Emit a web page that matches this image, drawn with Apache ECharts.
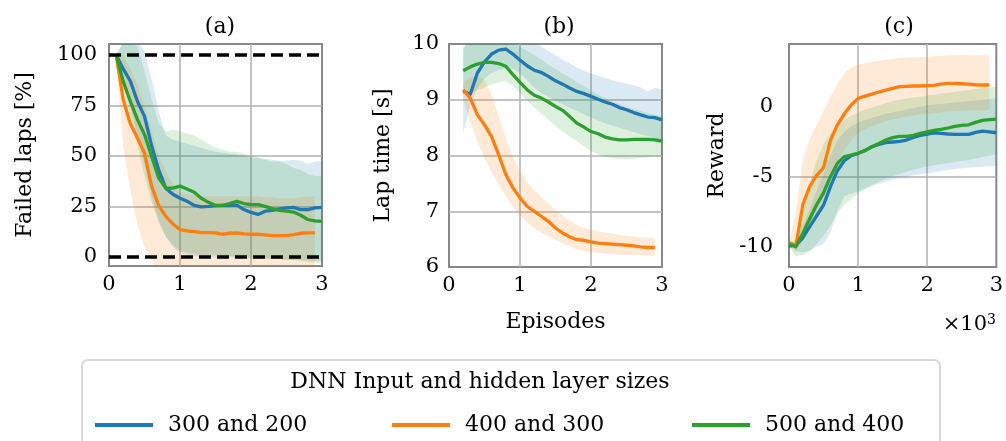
<!DOCTYPE html>
<html>
<head>
<meta charset="utf-8">
<script src="https://cdn.jsdelivr.net/npm/echarts@6/dist/echarts.min.js"></script>
<style>
  html, body { margin: 0; padding: 0; background: #fff; }
  #chart { width: 1006px; height: 441px; }
</style>
</head>
<body>
<div id="chart"></div>
<script>
// episodes (x10^3) sampled per panel
const episodesA = [0.1, 0.2, 0.3, 0.4, 0.5, 0.6, 0.7, 0.8, 0.9, 1.0, 1.1, 1.2, 1.3, 1.4, 1.5, 1.6, 1.7, 1.8, 1.9, 2.0, 2.1, 2.2, 2.3, 2.4, 2.5, 2.6, 2.7, 2.8, 2.9, 3.0];
const episodesB = [0.2, 0.3, 0.4, 0.5, 0.6, 0.7, 0.8, 0.9, 1.0, 1.1, 1.2, 1.3, 1.4, 1.5, 1.6, 1.7, 1.8, 1.9, 2.0, 2.1, 2.2, 2.3, 2.4, 2.5, 2.6, 2.7, 2.8, 2.9, 3.0];
const episodesC = [0.0, 0.1, 0.2, 0.3, 0.4, 0.5, 0.6, 0.7, 0.8, 0.9, 1.0, 1.1, 1.2, 1.3, 1.4, 1.5, 1.6, 1.7, 1.8, 1.9, 2.0, 2.1, 2.2, 2.3, 2.4, 2.5, 2.6, 2.7, 2.8, 2.9, 3.0];

const legendNames = ['300 and 200', '400 and 300', '500 and 400'];
const colors = ['#1f77b4', '#ff7f0e', '#2ca02c'];
const bandColors = ['rgba(31,119,180,0.16)', 'rgba(255,127,14,0.16)', 'rgba(44,160,44,0.16)'];

// (a) failed laps [%]
const failedBlue = [100, 93, 87, 77, 69.5, 55, 43, 34, 31, 29, 27.5, 25.5, 24.7, 25, 25.4, 25.5, 25.5, 25.6, 23.4, 22, 21, 22.6, 23, 23.7, 24.2, 24.5, 23.4, 23.4, 24.2, 24.5];
const failedOrange = [100, 77.8, 66, 58.8, 51.4, 35, 25.4, 20, 16.3, 13.5, 12.9, 12.5, 12, 12, 11.9, 11.2, 11.7, 11.9, 11.4, 11.2, 11.2, 10.9, 10.5, 10.5, 10.5, 11, 11.7, 11.9, 11.9];
const failedGreen = [100, 86.8, 77, 68, 60.5, 49.8, 39, 34, 34, 35, 33.6, 32, 29, 27, 25.5, 25.5, 26.4, 27.5, 26.4, 25.9, 25.9, 25, 23.9, 23, 22.6, 22.2, 20.6, 18.5, 17.8, 17.6];
const failedBlueLo = [100, 88, 75, 60, 45, 30, 18, 10, 5, 2, 1, 0.5, 0, 0, 0, 0, 0, -0.5, -0.5, -1, -1, -1, -1, -1, -1.5, -1.5, -1.5, -1.5, -2, -2];
const failedBlueHi = [100, 106, 106, 106, 102, 88, 72, 60, 58, 57, 56, 55, 54, 53, 52, 51.5, 51, 50.5, 50, 49, 49, 48.5, 48, 47.5, 47.5, 48, 47.5, 46, 47, 47.5];
const failedOrangeLo = [100, 55, 33, 16, 5, -2, -6, -6, -6, -6, -6, -6, -6, -6, -6, -6, -6, -6, -6, -6, -6, -6, -6, -6, -6, -6, -6, -6, -6];
const failedOrangeHi = [100, 100, 93, 85, 75, 62, 50, 42, 36, 32, 31, 30.5, 30, 30, 30, 30, 30, 30, 30, 30, 30, 29.5, 29.5, 29, 29, 29, 29.5, 30, 30];
const failedGreenLo = [100, 86, 70, 55, 40, 27, 17, 10, 6, 3, 2, 1.5, 1, 1, 1, 0.5, 0.5, 0, 0, 0, -0.5, -0.5, -1, -1, -1.5, -1.5, -2, -2.5, -3, -3];
const failedGreenHi = [100, 106, 106, 104, 92, 78, 66, 62, 63, 62, 61, 60, 58, 56, 54, 53, 52, 52, 51, 50, 49, 48, 47, 47, 46, 44, 43, 41, 40, 40];
const failedTicks = [0, 25, 50, 75, 100];

// (b) lap time [s]
const lapBlue = [9.15, 9.1, 9.48, 9.68, 9.82, 9.89, 9.91, 9.82, 9.71, 9.61, 9.53, 9.49, 9.42, 9.34, 9.28, 9.21, 9.15, 9.11, 9.06, 9.01, 8.96, 8.92, 8.86, 8.82, 8.77, 8.73, 8.69, 8.68, 8.64];
const lapOrange = [9.18, 9.03, 8.73, 8.55, 8.34, 8.01, 7.66, 7.42, 7.24, 7.09, 7.0, 6.91, 6.82, 6.7, 6.61, 6.54, 6.49, 6.48, 6.45, 6.43, 6.42, 6.41, 6.4, 6.39, 6.38, 6.36, 6.35, 6.35];
const lapGreen = [9.52, 9.59, 9.64, 9.67, 9.67, 9.65, 9.6, 9.45, 9.31, 9.18, 9.08, 9.03, 8.96, 8.88, 8.81, 8.7, 8.58, 8.51, 8.43, 8.39, 8.33, 8.3, 8.28, 8.28, 8.29, 8.29, 8.29, 8.28, 8.26];
const lapBlueLo = [8.4, 8.9, 9.2, 9.38, 9.48, 9.53, 9.56, 9.55, 9.48, 9.35, 9.22, 9.12, 9.05, 8.98, 8.92, 8.86, 8.8, 8.74, 8.68, 8.63, 8.58, 8.54, 8.5, 8.46, 8.42, 8.38, 8.35, 8.3, 8.27];
const lapBlueHi = [9.9, 10.1, 10.2, 10.3, 10.3, 10.3, 10.3, 10.3, 10.2, 10.1, 10.05, 9.95, 9.88, 9.8, 9.72, 9.65, 9.58, 9.52, 9.47, 9.43, 9.39, 9.35, 9.32, 9.29, 9.26, 9.22, 9.15, 9.22, 9.18];
const lapOrangeLo = [9.0, 8.6, 8.25, 7.95, 7.7, 7.48, 7.27, 7.08, 6.92, 6.8, 6.7, 6.62, 6.55, 6.48, 6.42, 6.37, 6.32, 6.29, 6.26, 6.25, 6.24, 6.23, 6.22, 6.22, 6.21, 6.21, 6.2, 6.2];
const lapOrangeHi = [9.3, 9.4, 9.42, 9.35, 9.1, 8.7, 8.3, 7.98, 7.72, 7.52, 7.38, 7.25, 7.14, 7.02, 6.92, 6.83, 6.75, 6.7, 6.67, 6.64, 6.62, 6.6, 6.58, 6.56, 6.55, 6.53, 6.52, 6.51];
const lapGreenLo = [9.1, 9.12, 9.17, 9.22, 9.28, 9.32, 9.33, 9.25, 9.12, 8.98, 8.86, 8.75, 8.64, 8.53, 8.43, 8.34, 8.26, 8.16, 8.08, 8.02, 7.98, 7.95, 7.94, 7.93, 7.94, 7.96, 7.97, 7.98, 7.99];
const lapGreenHi = [9.95, 10.05, 10.1, 10.1, 10.1, 10.1, 10.05, 10.0, 9.95, 9.88, 9.8, 9.72, 9.63, 9.55, 9.47, 9.4, 9.32, 9.24, 9.16, 9.1, 9.03, 8.97, 8.92, 8.87, 8.83, 8.8, 8.76, 8.73, 8.7];

// (c) reward
const rewardBlue = [-9.95, -9.88, -9.36, -8.57, -7.79, -7.02, -5.71, -4.57, -3.86, -3.5, -3.33, -3.14, -2.86, -2.69, -2.57, -2.52, -2.48, -2.38, -2.19, -2.05, -1.95, -1.86, -1.9, -1.95, -1.98, -1.98, -1.98, -1.83, -1.74, -1.79, -1.86];
const rewardOrange = [-9.7, -9.95, -7.0, -5.7, -4.9, -4.35, -2.4, -1.3, -0.52, 0.12, 0.6, 0.76, 0.9, 1.05, 1.19, 1.31, 1.43, 1.45, 1.48, 1.48, 1.5, 1.52, 1.62, 1.67, 1.67, 1.64, 1.62, 1.57, 1.55, 1.55];
const rewardGreen = [-9.8, -10.0, -9.05, -8.0, -7.0, -6.15, -5.0, -4.05, -3.57, -3.45, -3.33, -3.12, -2.86, -2.62, -2.38, -2.21, -2.12, -2.12, -2.05, -1.9, -1.79, -1.69, -1.62, -1.52, -1.4, -1.33, -1.29, -1.12, -0.98, -0.93, -0.88];
const rewardBlueLo = [-10.0, -10.3, -10.4, -10.3, -10.0, -9.8, -9.0, -7.5, -6.4, -6.2, -6.05, -5.85, -5.65, -5.5, -5.35, -5.2, -5.1, -5.0, -4.9, -4.82, -4.75, -4.68, -4.6, -4.52, -4.45, -4.4, -4.36, -4.32, -4.28, -4.25, -4.23];
const rewardBlueHi = [-9.9, -9.6, -8.5, -7.3, -6.0, -4.8, -3.5, -2.4, -1.8, -1.4, -1.15, -0.95, -0.8, -0.65, -0.5, -0.4, -0.3, -0.2, -0.1, 0.0, 0.1, 0.15, 0.2, 0.25, 0.3, 0.35, 0.4, 0.45, 0.5, 0.55, 0.6];
const rewardOrangeLo = [-9.7, -10.4, -9.6, -8.6, -7.6, -6.6, -5.2, -4.0, -3.1, -2.4, -1.9, -1.6, -1.4, -1.2, -1.05, -0.9, -0.8, -0.7, -0.62, -0.55, -0.5, -0.45, -0.4, -0.35, -0.3, -0.28, -0.26, -0.25, -0.25, -0.25];
const rewardOrangeHi = [-9.7, -7.5, -3.8, -2.3, -1.3, -0.3, 0.7, 1.6, 2.4, 2.8, 3.0, 3.1, 3.2, 3.28, 3.35, 3.42, 3.48, 3.5, 3.53, 3.55, 3.57, 3.6, 3.62, 3.65, 3.67, 3.7, 3.7, 3.68, 3.67, 3.65];
const rewardGreenLo = [-10.0, -10.7, -10.6, -10.3, -9.8, -9.2, -8.5, -7.6, -7.0, -6.6, -6.2, -5.9, -5.6, -5.35, -5.15, -4.95, -4.8, -4.65, -4.5, -4.38, -4.27, -4.18, -4.1, -4.02, -3.95, -3.88, -3.8, -3.7, -3.6, -3.5, -3.4];
const rewardGreenHi = [-9.8, -9.4, -7.5, -5.5, -3.8, -2.7, -1.9, -1.35, -0.95, -0.65, -0.4, -0.2, -0.05, 0.1, 0.25, 0.4, 0.5, 0.58, 0.65, 0.72, 0.8, 0.87, 0.94, 1.0, 1.07, 1.13, 1.2, 1.27, 1.33, 1.38, 1.42];
const rewardTicks = [-10, -5, 0];

const FONT = '"DejaVu Serif", serif';
const GRID_COLOR = '#b0b0b0';

const pairs = (xs, ys) => ys.map((v, i) => [xs[i], v]);

// shaded band between lo and hi, drawn as one polygon in axis coordinates
function bandSeries(g, xs, lo, hi, idx) {
  const n = lo.length;
  return {
    type: 'custom', name: 'band' + g + idx, xAxisIndex: g, yAxisIndex: g,
    clip: true, silent: true, z: 1,
    data: lo.map((v, i) => [xs[i], v, hi[i]]),
    encode: { x: 0, y: [1, 2] },
    renderItem: function (params, api) {
      if (params.dataIndex !== 0) return null;
      const pts = [];
      for (let i = 0; i < n; i++) pts.push(api.coord([xs[i], hi[i]]));
      for (let i = n - 1; i >= 0; i--) pts.push(api.coord([xs[i], lo[i]]));
      return { type: 'polygon', shape: { points: pts }, style: { fill: bandColors[idx] } };
    }
  };
}

function meanSeries(g, xs, ys, idx, extra) {
  return Object.assign({
    type: 'line', name: legendNames[idx], xAxisIndex: g, yAxisIndex: g,
    data: pairs(xs, ys), symbol: 'none', z: 3, color: colors[idx],
    lineStyle: { width: 3.3, color: colors[idx], join: 'round' }, emphasis: { disabled: true }
  }, extra || {});
}

const gridPos = [
  { left: 109, top: 44, width: 213, height: 222 },
  { left: 449, top: 44, width: 213, height: 223 },
  { left: 789, top: 44, width: 212, height: 223 }
];

const labelStyle = { color: '#000', fontFamily: FONT, fontSize: 21 };
const nameStyle = { color: '#000', fontFamily: FONT, fontSize: 22 };
const splitLine = { show: true, showMinLine: false, showMaxLine: false, lineStyle: { color: GRID_COLOR, width: 1.5 } };

const xAxes = [0, 1, 2].map(g => ({
  type: 'value', gridIndex: g, min: 0, max: 3, interval: 1,
  axisLine: { show: false }, axisTick: { show: false },
  axisLabel: Object.assign({ margin: 8 }, labelStyle),
  splitLine: splitLine,
  name: g === 1 ? 'Episodes' : '', nameLocation: 'middle', nameGap: 44, nameTextStyle: nameStyle
}));

const yAxes = [
  {
    type: 'value', gridIndex: 0, min: -4.5, max: 105.3,
    axisLabel: Object.assign({ margin: 12, customValues: failedTicks }, labelStyle),
    axisTick: { show: false, customValues: failedTicks },
    name: 'Failed laps [%]', nameGap: 73
  },
  {
    type: 'value', gridIndex: 1, min: 6, max: 10, interval: 1,
    axisLabel: Object.assign({ margin: 10 }, labelStyle),
    axisTick: { show: false },
    name: 'Lap time [s]', nameGap: 55
  },
  {
    type: 'value', gridIndex: 2, min: -11.45, max: 4.48,
    axisLabel: Object.assign({ margin: 16, customValues: rewardTicks }, labelStyle),
    axisTick: { show: false, customValues: rewardTicks },
    name: 'Reward', nameGap: 61
  }
].map(a => Object.assign({
  axisLine: { show: false }, splitLine: splitLine,
  nameLocation: 'middle', nameTextStyle: nameStyle
}, a));

const series = [
  bandSeries(0, episodesA, failedBlueLo, failedBlueHi, 0),
  bandSeries(0, episodesA, failedOrangeLo, failedOrangeHi, 1),
  bandSeries(0, episodesA, failedGreenLo, failedGreenHi, 2),
  bandSeries(1, episodesB, lapBlueLo, lapBlueHi, 0),
  bandSeries(1, episodesB, lapOrangeLo, lapOrangeHi, 1),
  bandSeries(1, episodesB, lapGreenLo, lapGreenHi, 2),
  bandSeries(2, episodesC, rewardBlueLo, rewardBlueHi, 0),
  bandSeries(2, episodesC, rewardOrangeLo, rewardOrangeHi, 1),
  bandSeries(2, episodesC, rewardGreenLo, rewardGreenHi, 2),
  meanSeries(0, episodesA, failedBlue, 0, {
    markLine: {
      silent: true, symbol: ['none', 'none'], label: { show: false },
      lineStyle: { color: '#000', type: [12, 6], width: 3.5 },
      data: [{ yAxis: 0 }, { yAxis: 100 }]
    }
  }),
  meanSeries(0, episodesA, failedOrange, 1),
  meanSeries(0, episodesA, failedGreen, 2),
  meanSeries(1, episodesB, lapBlue, 0),
  meanSeries(1, episodesB, lapOrange, 1),
  meanSeries(1, episodesB, lapGreen, 2),
  meanSeries(2, episodesC, rewardBlue, 0),
  meanSeries(2, episodesC, rewardOrange, 1),
  meanSeries(2, episodesC, rewardGreen, 2)
];

const panelTitles = ['(a)', '(b)', '(c)'];
const titleX = [215, 554, 894];

const chart = echarts.init(document.getElementById('chart'), null, { renderer: 'canvas' });
chart.setOption({
  animation: false,
  backgroundColor: '#fff',
  title: panelTitles.map((t, i) => ({
    text: t, left: titleX[i], top: 11, textAlign: 'center',
    textStyle: { fontFamily: FONT, fontSize: 22, fontWeight: 'normal', color: '#000' }
  })).concat([{
    text: '{m|×10}{s|3}', right: 5, top: 308,
    textStyle: {
      fontWeight: 'normal',
      rich: {
        m: { fontFamily: FONT, fontSize: 21, fontWeight: 'normal', color: '#000' },
        s: { fontFamily: FONT, fontSize: 14, fontWeight: 'normal', color: '#000', padding: [0, 0, 10, 0] }
      }
    }
  }]),
  grid: gridPos.map(p => Object.assign({
    show: true, borderColor: '#888', borderWidth: 2, backgroundColor: 'transparent', containLabel: false
  }, p)),
  xAxis: xAxes,
  yAxis: yAxes,
  legend: legendNames.map((n, i) => ({
    data: [n], left: [90, 387, 687][i], top: 409,
    icon: 'rect', itemWidth: 58, itemHeight: 4,
    selectedMode: false,
    textStyle: { fontFamily: FONT, fontSize: 22, color: '#000', padding: [0, 0, 0, 10] }
  })),
  graphic: [
    {
      type: 'rect', z: -1,
      shape: { x: 82, y: 360, width: 858, height: 110, r: 6 },
      style: { fill: '#fff', stroke: '#d8d8d8', lineWidth: 2 }
    },
    {
      type: 'text', x: 480, y: 382,
      style: {
        text: 'DNN Input and hidden layer sizes', fontFamily: FONT, fontSize: 22,
        fill: '#000', align: 'center', verticalAlign: 'middle'
      }
    }
  ],
  series: series
});
</script>
</body>
</html>
